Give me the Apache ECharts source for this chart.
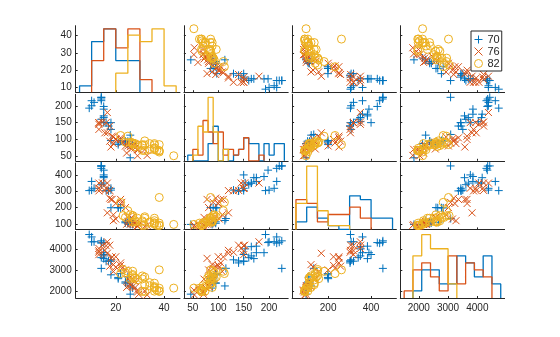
<!DOCTYPE html>
<html><head><meta charset="utf-8">
<script src="https://cdn.jsdelivr.net/npm/echarts@6/dist/echarts.min.js"></script>
<style>html,body{margin:0;padding:0;background:#fff}#c{width:560px;height:337px}</style>
</head><body><div id="c"></div>
<script>
// ---- data (carsmall, grouped by model year) ----
const groupNames = ['70', '76', '82'];
const mpg70 = [18,15,18,16,17,15,14,14,14,15,NaN,NaN,NaN,NaN,NaN,15,14,NaN,15,14,24,22,18,21,27,26,25,24,25,26,21,10,10,11,9];
const hp70  = [130,165,150,150,140,198,220,215,225,190,115,165,153,175,175,170,160,140,150,225,95,95,97,85,88,46,87,90,95,113,90,215,200,210,193];
const disp70 = [307,350,318,304,302,429,454,440,455,390,133,350,351,383,360,383,340,302,400,455,113,198,199,200,97,97,110,107,104,121,199,360,307,318,304];
const wt70  = [3504,3693,3436,3433,3449,4341,4354,4312,4425,3850,3090,4142,4034,4166,3850,3563,3609,3353,3761,3086,2372,2833,2774,2587,2130,1835,2672,2430,2375,2234,2648,4615,4376,4382,4732];

const mpg76 = [28,25,25,26,27,17.5,16,15.5,14.5,22,22,24,22.5,29,24.5,29,33,20,18,18.5,17.5,29.5,32,28,26.5,20,13,19,19,16.5,16.5,13,13,13];
const hp76  = [86,81,92,79,83,140,150,120,152,100,105,81,90,52,60,70,53,100,78,110,95,71,70,75,72,102,150,88,108,120,180,145,130,150];
const disp76 = [107,116,140,98,101,305,318,304,351,225,250,200,232,85,98,90,91,225,250,250,258,97,85,97,140,130,318,120,156,168,350,350,302,318];
const wt76  = [2464,2220,2572,2255,2202,4215,4190,3962,4215,3233,3353,3012,3085,2035,2164,1937,1795,3651,3574,3645,3193,1825,1990,2155,2565,3150,3940,3270,2930,3820,4380,4055,3870,3755];

const mpg82 = [28,27,34,31,29,27,24,23,36,37,31,38,36,36,36,34,38,32,38,25,38,26,22,32,36,27,27,44,32,28,31];
const hp82  = [88,88,88,85,84,90,92,NaN,74,68,68,63,70,88,75,70,67,67,67,110,85,92,112,96,84,90,86,52,84,79,82];
const disp82 = [112,112,112,112,135,151,140,151,105,91,91,105,98,120,107,108,91,91,91,181,262,156,232,144,135,151,140,97,135,120,119];
const wt82  = [2605,2640,2395,2575,2525,2735,2865,3035,1980,2025,1970,2125,2125,2160,2205,2245,1965,1965,1995,2945,3015,2585,2835,2665,2370,2950,2790,2130,2295,2625,2720];

// histogram bin grid per variable (MPG, Horsepower, Displacement, Weight)
const binStart = [5, 40, 50, 1500];
const binWidth = [5, 10, 50, 300];
const binCount = [8, 19, 9, 11];

// tick values
const xTickValues = [[20,40],[50,100,150,200],[200,400],[2000,3000,4000]];
const yTickValues = [[10,20,30,40],[50,100,150,200],[100,200,300,400],[2000,3000,4000]];

// ---- build ----
const vars = [[mpg70,hp70,disp70,wt70],[mpg76,hp76,disp76,wt76],[mpg82,hp82,disp82,wt82]];
const colors = ['#0072BD','#D95319','#EDB120'];
const symbols = ['path://M0,-5L0,5M-5,0L5,0','path://M-5,-5L5,5M-5,5L5,-5','circle'];
const symSizes = [8, 7, 8];
const axisColor = '#262626';
const font = 'Liberation Sans, Arial, Helvetica, sans-serif';

const nV = 4;
const yLim = [], xLim = [];
for (let v = 0; v < nV; v++) {
  let mn = Infinity, mx = -Infinity;
  vars.forEach(g => g[v].forEach(val => { if (!isNaN(val)) { mn = Math.min(mn, val); mx = Math.max(mx, val); } }));
  const r = mx - mn;
  yLim.push([mn - 0.05 * r, mx + 0.05 * r]);
  const e0 = binStart[v], eN = binStart[v] + binCount[v] * binWidth[v];
  xLim.push([e0 - 0.04 * (eN - e0), eN + 0.04 * (eN - e0)]);
}

const left0 = 75.7, colStep = 108.2, W = 104.3;
const top0 = 25.7, rowStep = 68.6, H = 66.5;

const grid = [], xAxis = [], yAxis = [], series = [];
let gi = 0;
for (let r = 0; r < nV; r++) {
  for (let c = 0; c < nV; c++) {
    grid.push({ left: left0 + c * colStep, top: top0 + r * rowStep, width: W, height: H, containLabel: false });
    xAxis.push({
      type: 'value', gridIndex: gi, min: xLim[c][0], max: xLim[c][1],
      axisLine: { show: true, onZero: false, lineStyle: { color: axisColor, width: 1 } },
      axisTick: { show: true, inside: true, length: 2, customValues: xTickValues[c], lineStyle: { color: axisColor } },
      axisLabel: { show: r === nV - 1, customValues: xTickValues[c], color: axisColor, fontSize: 10, fontFamily: font, margin: 5, formatter: v => String(v) },
      splitLine: { show: false }
    });
    const yIdx = yAxis.length;
    yAxis.push({
      type: 'value', gridIndex: gi, min: yLim[r][0], max: yLim[r][1],
      axisLine: { show: true, onZero: false, lineStyle: { color: axisColor, width: 1 } },
      axisTick: { show: true, inside: true, length: 2, customValues: yTickValues[r], lineStyle: { color: axisColor } },
      axisLabel: { show: c === 0, customValues: yTickValues[r], color: axisColor, fontSize: 10, fontFamily: font, margin: 4, formatter: v => String(v) },
      splitLine: { show: false }
    });
    if (r !== c) {
      vars.forEach((g, k) => {
        const pts = [];
        for (let i = 0; i < g[c].length; i++) {
          if (!isNaN(g[c][i]) && !isNaN(g[r][i])) pts.push([g[c][i], g[r][i]]);
        }
        series.push({
          type: 'scatter', name: groupNames[k], xAxisIndex: gi, yAxisIndex: yIdx,
          data: pts, symbol: symbols[k], symbolSize: symSizes[k], silent: true,
          itemStyle: { color: 'rgba(0,0,0,0)', borderColor: colors[k], borderWidth: 1, opacity: 1 },
          z: 2 + k
        });
      });
    } else {
      // histogram counts (stairs) on a hidden count axis
      const countsAll = vars.map(g => {
        const cnt = new Array(binCount[c]).fill(0);
        g[c].forEach(val => {
          if (isNaN(val)) return;
          let b = Math.floor((val - binStart[c]) / binWidth[c]);
          b = Math.max(0, Math.min(binCount[c] - 1, b));
          cnt[b]++;
        });
        return cnt;
      });
      const maxC = Math.max(...countsAll.map(a => Math.max(...a)));
      const cIdx = yAxis.length;
      yAxis.push({ type: 'value', gridIndex: gi, min: 0, max: maxC * 1.05, show: false });
      countsAll.forEach((cnt, k) => {
        let first = cnt.findIndex(x => x > 0), last = cnt.length - 1;
        while (last > 0 && cnt[last] === 0) last--;
        const pts = [];
        for (let b = first; b <= last; b++) {
          const e = binStart[c] + b * binWidth[c];
          if (b === first) pts.push([e, 0]);
          pts.push([e, cnt[b]]);
          pts.push([e + binWidth[c], cnt[b]]);
          if (b === last) pts.push([e + binWidth[c], 0]);
        }
        series.push({
          type: 'line', xAxisIndex: gi, yAxisIndex: cIdx, data: pts, symbol: 'none', silent: true,
          lineStyle: { color: colors[k], width: 1.3 }, z: 2 + k
        });
      });
    }
    gi++;
  }
}

const chart = echarts.init(document.getElementById('c'), null, { renderer: 'canvas' });
chart.setOption({
  animation: false,
  backgroundColor: '#fff',
  grid, xAxis, yAxis, series,
  legend: {
    data: groupNames.map((n, k) => ({ name: n, icon: symbols[k], itemStyle: { color: 'rgba(0,0,0,0)', borderColor: colors[k], borderWidth: 1 } })),
    orient: 'vertical', left: 471, top: 31,
    itemWidth: 8, itemHeight: 8, itemGap: 1, itemTextGap: 2,
    padding: [3, 2, 2, 3],
    backgroundColor: '#fff', borderColor: axisColor, borderWidth: 1, borderRadius: 0,
    textStyle: { fontSize: 11, fontFamily: font, color: axisColor, lineHeight: 11 },
    selectedMode: false
  }
});
</script></body></html>
